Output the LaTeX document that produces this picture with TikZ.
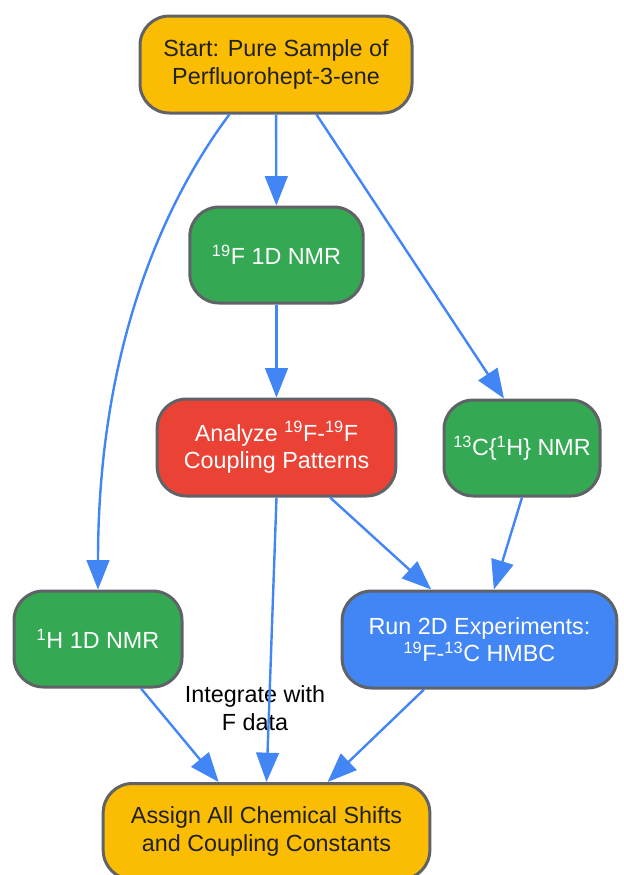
\documentclass[tikz,border=0pt]{standalone}
\usepackage{fontspec}
\setmainfont{Liberation Sans}
\usetikzlibrary{arrows.meta}
\definecolor{gyellow}{HTML}{FBBC04}
\definecolor{ggreen}{HTML}{34A853}
\definecolor{gred}{HTML}{EA4335}
\definecolor{gblue}{HTML}{4285F4}
\definecolor{gborder}{HTML}{5F6368}
\definecolor{gtext}{HTML}{202124}
\def\iso#1{\textsuperscript{#1}}
\tikzset{
  box/.style={draw=gborder, line width=2.25pt, rounded corners=22pt, align=center,
    font=\fontsize{17.5}{20.5}\selectfont, inner sep=0pt},
  flow/.style={draw=gblue, line width=1.8pt, -{Triangle[length=22pt,width=17pt]}},
}
\begin{document}
\begin{tikzpicture}[x=0.75pt,y=0.75pt,yscale=-1,xscale=1]
	\useasboundingbox (0,0) rectangle (624,875);
	% nodes
	\node[box, fill=gyellow, text=gtext, minimum width=204pt, minimum height=72.75pt] (start) at (276,64.5) {Start: Pure Sample of\\Perfluorohept-3-ene};
	\node[box, fill=ggreen, text=white, minimum width=130pt, minimum height=72pt] (fnmr) at (276.5,255) {\iso{19}F 1D NMR};
	\node[box, fill=gred, text=white, minimum width=179pt, minimum height=72.75pt] (analyze) at (276.5,447.5) {Analyze \iso{19}F-\iso{19}F\\Coupling Patterns};
	\node[box, fill=ggreen, text=white, minimum width=117pt, minimum height=72pt] (cnmr) at (522,448) {\iso{13}C\{\iso{1}H\} NMR};
	\node[box, fill=ggreen, text=white, minimum width=126pt, minimum height=72pt] (hnmr) at (98,639) {\iso{1}H 1D NMR};
	\node[box, fill=gblue, text=white, minimum width=206pt, minimum height=72.75pt] (twod) at (479.5,639.5) {Run 2D Experiments:\\\iso{19}F-\iso{13}C HMBC};
	\node[box, fill=gyellow, text=gtext, minimum width=245pt, minimum height=72pt] (assign) at (266.5,831.5) {Assign All Chemical Shifts\\and Coupling Constants};
	\node[align=center, font=\fontsize{17.5}{20.5}\selectfont, text=black] (intlab) at (255,708) {Integrate with\\F data};
	% connectors
	\draw[flow] (start) -- (fnmr);
	\draw[flow] (start.-51) -- (cnmr.110);
	\draw[flow] (start.-133) .. controls +(-60,80) and +(0,-250) .. (hnmr.north);
	\draw[flow] (fnmr) -- (analyze);
	\draw[flow] (analyze.-43) -- (twod.134);
	\draw[flow] (cnmr.south) -- (twod.74);
	\draw[flow] (analyze.south) -- (assign.north);
	\draw[flow] (hnmr.-49) -- (assign.134);
	\draw[flow] (twod.222) -- (assign.39);
\end{tikzpicture}
\end{document}
